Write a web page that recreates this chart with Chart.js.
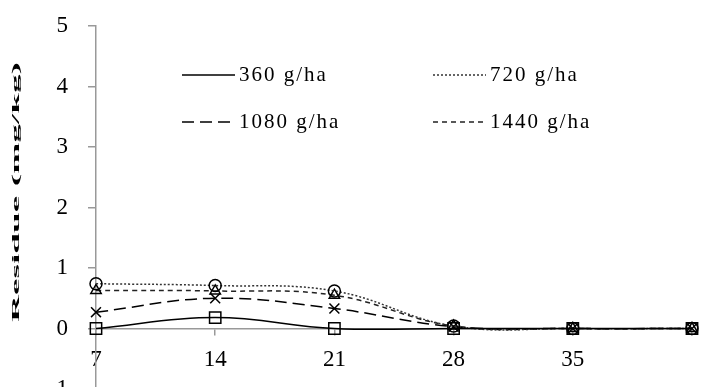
<!DOCTYPE html>
<html>
<head>
<meta charset="utf-8">
<script src="https://cdn.jsdelivr.net/npm/chart.js@4"></script>
<style>
  html, body { margin: 0; padding: 0; background: #fff; overflow: hidden; }
  #wrap { width: 704px; height: 402px; }
</style>
</head>
<body>
<div id="wrap"><canvas id="chart" width="704" height="402"></canvas></div>
<script>
// 데이터
const days = ['7', '14', '21', '28', '35', '42'];
const dayTicks = ['7', '14', '21', '28', '35', ''];   // 42 라벨은 잘려서 안 보임
const seriesNames = ['360 g/ha', '720 g/ha', '1080 g/ha', '1440 g/ha'];
const s360 = [0, 0.18, 0, 0, 0, 0];
const s720 = [0.74, 0.71, 0.62, 0.04, 0, 0];
const s1080 = [0.27, 0.5, 0.33, 0.03, 0, 0];
const s1440 = [0.63, 0.62, 0.55, 0.04, 0, 0];
const yTitle = 'Residue (mg/kg)';

const dashes = [[], [2, 2], [12, 6], [5, 4]];
const markers = ['rect', 'circle', 'crossRot', 'triangle'];
const radii = [8, 6, 7, 6];
const values = [s360, s720, s1080, s1440];
const lineColors = ['#000', '#333', '#000', '#222'];

const serif = "'Liberation Serif', 'Times New Roman', serif";

// 범례 (선 모양만)
const legendPlugin = {
    id: 'lineLegend',
    afterDraw(chart) {
        const ctx = chart.ctx;
        const spots = [[182, 75], [433, 75], [182, 122], [433, 122]];
        ctx.save();
        seriesNames.forEach((name, i) => {
            const [x, y] = spots[i];
            ctx.beginPath();
            ctx.setLineDash(dashes[i]);
            ctx.lineWidth = 1.5;
            ctx.strokeStyle = lineColors[i];
            ctx.moveTo(x, y);
            ctx.lineTo(x + 53, y);
            ctx.stroke();
            ctx.setLineDash([]);
            ctx.fillStyle = '#000';
            ctx.font = '21px ' + serif;
            ctx.letterSpacing = '2px';
            ctx.textBaseline = 'middle';
            ctx.textAlign = 'left';
            ctx.fillText(name, x + 57, y);
        });
        ctx.restore();
    }
};

// 세로 축 제목 (좁고 길게 눌린 글씨)
const yTitlePlugin = {
    id: 'yTitle',
    afterDraw(chart) {
        const ctx = chart.ctx;
        ctx.save();
        ctx.font = 'bold 11px ' + serif;
        const w = ctx.measureText(yTitle).width;
        ctx.translate(16, 192);
        ctx.rotate(-Math.PI / 2);
        ctx.scale(260 / w, 1);
        ctx.fillStyle = '#000';
        ctx.textAlign = 'center';
        ctx.textBaseline = 'middle';
        ctx.fillText(yTitle, 0, 0);
        ctx.restore();
    }
};

new Chart(document.getElementById('chart'), {
    type: 'line',
    data: {
        labels: days,
        datasets: values.map((v, i) => ({
            label: seriesNames[i],
            data: v,
            borderColor: lineColors[i],
            borderWidth: 1.5,
            borderDash: dashes[i],
            tension: 0.4,
            fill: false,
            pointStyle: markers[i],
            pointRadius: radii[i],
            pointBorderColor: '#000',
            pointBorderWidth: 1.5,
            pointBackgroundColor: 'rgba(0,0,0,0)'
        }))
    },
    plugins: [legendPlugin, yTitlePlugin],
    options: {
        responsive: false,
        animation: false,
        devicePixelRatio: 1,
        layout: { padding: { left: 0, right: 6, top: 26, bottom: 13 } },
        plugins: { legend: { display: false }, tooltip: { enabled: false } },
        scales: {
            x: {
                type: 'category',
                position: { y: 0 },
                offset: false,
                grid: { drawOnChartArea: false, drawTicks: true, tickLength: 6, color: '#999', lineWidth: 1.5 },
                border: { color: '#999', width: 1.5 },
                ticks: {
                    color: '#000',
                    font: { family: serif, size: 23 },
                    padding: 12,
                    maxRotation: 0,
                    autoSkip: false,
                    callback: (v, i) => dayTicks[i]
                }
            },
            y: {
                min: -1,
                max: 5,
                grid: { drawOnChartArea: false, drawTicks: true, tickLength: 8, color: '#999', lineWidth: 1.5 },
                border: { color: '#999', width: 1.5 },
                ticks: {
                    stepSize: 1,
                    color: '#000',
                    font: { family: serif, size: 23 },
                    padding: 20
                },
                afterFit(scale) {
                    scale.width = 96;
                    scale.paddingTop = 0;
                    scale.paddingBottom = 0;
                }
            }
        }
    }
});
</script>
</body>
</html>
